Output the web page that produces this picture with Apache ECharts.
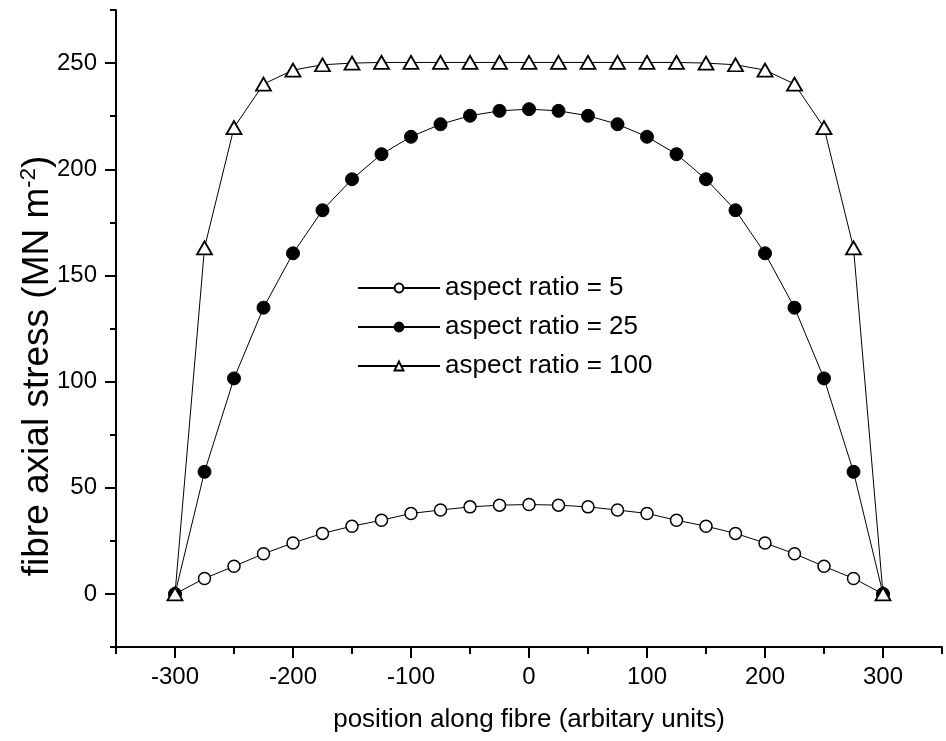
<!DOCTYPE html>
<html>
<head>
<meta charset="utf-8">
<script src="https://cdn.jsdelivr.net/npm/echarts@6/dist/echarts.min.js"></script>
<style>
html,body{margin:0;padding:0;background:#fff;}
#c{width:946px;height:741px;}
</style>
</head>
<body>
<div id="c"></div>
<script>
// Data
const positions = [-300,-275,-250,-225,-200,-175,-150,-125,-100,-75,-50,-25,0,25,50,75,100,125,150,175,200,225,250,275,300];
const ar5   = [0,7.3,13.0,18.9,24.0,28.5,31.9,34.7,37.9,39.5,41.0,41.8,42.1,41.8,41.0,39.5,37.9,34.7,31.9,28.5,24.0,18.9,13.0,7.3,0];
const ar25  = [0,57.5,101.5,134.8,160.4,180.7,195.3,207.1,215.3,221.2,225.2,227.5,228.3,227.5,225.2,221.2,215.3,207.1,195.3,180.7,160.4,134.8,101.5,57.5,0];
const ar100 = [0,163,219.6,240.1,246.7,249.2,250,250.3,250.3,250.3,250.3,250.3,250.3,250.3,250.3,250.3,250.3,250.3,250,249.2,246.7,240.1,219.6,163,0];
const seriesNames = ['aspect ratio = 5','aspect ratio = 25','aspect ratio = 100'];
const xTitle = 'position along fibre (arbitary units)';
const yTitle = 'fibre axial stress (MN m{sup|-2})';
const xMajorTicks = [-300,-200,-100,0,100,200,300];
const xMinorTicks = [-350,-250,-150,-50,50,150,250,350];
const yMajorTicks = [0,50,100,150,200,250];
const yMinorTicks = [-25,25,75,125,175,225,275];

const pair = arr => positions.map((x,i)=>[x,arr[i]]);
const sans = '"Liberation Sans",Arial,sans-serif';

const chart = echarts.init(document.getElementById('c'), null, {renderer:'canvas'});
const lineCommon = {
  type:'line',
  lineStyle:{color:'#000',width:1},
  emphasis:{disabled:true},
  animation:false,
  z:2
};
chart.setOption({
  backgroundColor:'#fff',
  animation:false,
  grid:{left:116,right:4,top:10,bottom:94,containLabel:false},
  legend:{
    orient:'vertical',
    left:357, top:274, padding:0,
    itemWidth:82, itemHeight:11, itemGap:11,
    textStyle:{fontFamily:sans,fontSize:26,color:'#000',lineHeight:28},
    data:seriesNames
  },
  graphic:[{
    type:'text',
    x:38, y:366, rotation:Math.PI/2,
    style:{
      text:yTitle, fontFamily:sans, fontSize:37, fill:'#000',
      align:'center', verticalAlign:'middle',
      rich:{sup:{fontFamily:sans,fontSize:22,fill:'#000',padding:[0,0,18,0]}}
    }
  }],
  xAxis:[{
    type:'value', min:-350, max:350,
    axisLine:{show:true,onZero:false,lineStyle:{color:'#000',width:2}},
    axisTick:{show:true,length:11,lineStyle:{color:'#000',width:2},customValues:xMajorTicks},
    axisLabel:{show:true,customValues:xMajorTicks,margin:18,fontFamily:sans,fontSize:24,color:'#000'},
    splitLine:{show:false},
    name:xTitle,
    nameLocation:'middle', nameGap:60,
    nameTextStyle:{fontFamily:sans,fontSize:26,color:'#000'}
  },{
    type:'value', min:-350, max:350, position:'bottom',
    axisLine:{show:false,onZero:false},
    axisTick:{show:true,length:7,lineStyle:{color:'#000',width:2},customValues:xMinorTicks},
    axisLabel:{show:false},
    splitLine:{show:false}
  }],
  yAxis:[{
    type:'value', min:-25, max:275,
    axisLine:{show:true,onZero:false,lineStyle:{color:'#000',width:2}},
    axisTick:{show:true,length:11,lineStyle:{color:'#000',width:2},customValues:yMajorTicks},
    axisLabel:{show:true,customValues:yMajorTicks,margin:19,fontFamily:sans,fontSize:24,color:'#000'},
    splitLine:{show:false}
  },{
    type:'value', min:-25, max:275, position:'left',
    axisLine:{show:false,onZero:false},
    axisTick:{show:true,length:6,lineStyle:{color:'#000',width:2},customValues:yMinorTicks},
    axisLabel:{show:false},
    splitLine:{show:false}
  }],
  series:[
    Object.assign({}, lineCommon, {
      name:seriesNames[0], data:pair(ar5), symbol:'circle', symbolSize:12,
      itemStyle:{color:'#fff',borderColor:'#000',borderWidth:1.5}
    }),
    Object.assign({}, lineCommon, {
      name:seriesNames[1], data:pair(ar25), symbol:'circle', symbolSize:13,
      itemStyle:{color:'#000',borderColor:'#000',borderWidth:1}
    }),
    Object.assign({}, lineCommon, {
      name:seriesNames[2], data:pair(ar100), symbol:'triangle', symbolSize:[15,13],
      itemStyle:{color:'#fff',borderColor:'#000',borderWidth:1.8}
    })
  ]
});
</script>
</body>
</html>
